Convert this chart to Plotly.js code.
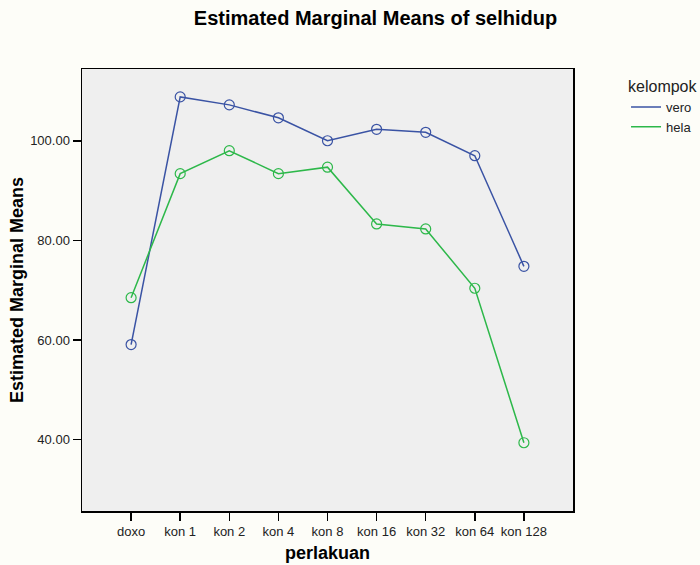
<!DOCTYPE html>
<html>
<head>
<meta charset="utf-8">
<script src="https://cdn.plot.ly/plotly-3.0.1.min.js"></script>
<style>html,body{margin:0;padding:0;background:#fdfdf8;}#chart{width:700px;height:565px;}</style>
</head>
<body>
<div id="chart"></div>
<script>
const categories = ["doxo","kon 1","kon 2","kon 4","kon 8","kon 16","kon 32","kon 64","kon 128"];
const veroValues = [59.1, 108.8, 107.2, 104.6, 100.0, 102.3, 101.7, 97.0, 74.8];
const helaValues = [68.5, 93.4, 98.0, 93.4, 94.7, 83.3, 82.3, 70.4, 39.4];
const seriesNames = ["vero","hela"];
const yTickVals = [40, 60, 80, 100];
const yTickText = ["40.00","60.00","80.00","100.00"];

const font = "Liberation Sans, Arial, sans-serif";
const colors = ["#3a53a4", "#2db84a"];
const idx = categories.map((_, i) => i);

function trace(name, vals, color) {
  return {
    type: "scatter", mode: "lines+markers", name: name, showlegend: false,
    x: idx, y: vals,
    line: {color: color, width: 1.5},
    marker: {symbol: "circle-open", size: 10, color: color, line: {width: 1.2, color: color}},
    cliponaxis: false
  };
}
function legendTrace(name, color) {
  return {type: "scatter", mode: "lines", name: name, x: [null], y: [null],
          line: {color: color, width: 1.5}, showlegend: true};
}

const data = [
  trace(seriesNames[0], veroValues, colors[0]),
  trace(seriesNames[1], helaValues, colors[1]),
  legendTrace(seriesNames[0], colors[0]),
  legendTrace(seriesNames[1], colors[1])
];

const layout = {
  width: 700, height: 565,
  margin: {l: 82, r: 127, t: 69, b: 54, autoexpand: false},
  paper_bgcolor: "#fdfdf8",
  plot_bgcolor: "#efefef",
  font: {family: font, size: 13, color: "#222"},
  title: {text: "Estimated Marginal Means of selhidup", font: {family: font, size: 20, color: "#000", weight: "bold"}, x: 375.5/700, xanchor: "center", y: 1 - 18/565, yanchor: "middle"},
  xaxis: {
    range: [-1, 9],
    tickmode: "array", tickvals: idx, ticktext: categories,
    ticks: "outside", ticklen: 8, tickwidth: 1.5, tickcolor: "#000",
    showgrid: false, zeroline: false,
    showline: true, linecolor: "#000", linewidth: 1.5, mirror: true,
    tickfont: {family: font, size: 13, color: "#222"},
    title: {text: "perlakuan", font: {family: font, size: 18, color: "#000", weight: "bold"}, standoff: 8}
  },
  yaxis: {
    range: [25.7, 114.4],
    tickmode: "array", tickvals: yTickVals, ticktext: yTickText,
    ticks: "outside", ticklen: 8, tickwidth: 1.5, tickcolor: "#000",
    showgrid: false, zeroline: false,
    showline: true, linecolor: "#000", linewidth: 1.5, mirror: true,
    tickfont: {family: font, size: 13, color: "#222"},
    title: {text: "Estimated Marginal Means", font: {family: font, size: 18, color: "#000", weight: "bold"}, standoff: 2}
  },
  legend: {
    x: 1.108, xanchor: "left", y: 0.995, yanchor: "top",
    bgcolor: "rgba(0,0,0,0)",
    title: {text: "kelompok", font: {family: font, size: 16, color: "#222"}},
    font: {family: font, size: 13, color: "#222"},
    itemwidth: 30, tracegroupgap: 0
  },
  showlegend: true
};

Plotly.newPlot("chart", data, layout, {displayModeBar: false, staticPlot: true});
</script>
</body>
</html>
